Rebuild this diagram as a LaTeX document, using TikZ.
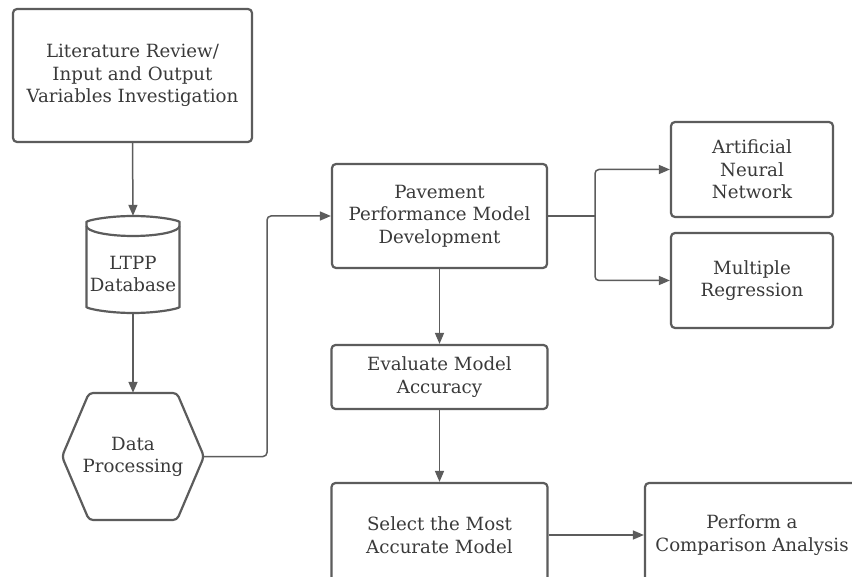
\documentclass[tikz,border=0pt]{standalone}
\usepackage{fontspec}
\setmainfont{DejaVu Serif}
\usetikzlibrary{arrows.meta}
\definecolor{edge}{HTML}{5C5C5C}
\definecolor{ink}{HTML}{3A3A3A}
\tikzset{
  procbox/.style={draw=edge, line width=2.2pt, rounded corners=4pt, fill=white,
    text=ink, align=center, inner sep=0pt, font=\fontsize{18.2}{22.5}\selectfont},
  ghost/.style={inner sep=0pt, text=ink, align=center, font=\fontsize{18.2}{22.5}\selectfont},
  shapeline/.style={draw=edge, line width=2.2pt, rounded corners=4pt, fill=white},
  link/.style={draw=edge, line width=1.5pt, rounded corners=4pt},
  arrowlink/.style={link, -{Triangle[length=11pt,width=9pt]}},
}
\begin{document}
\begin{tikzpicture}[x=1pt,y=-1pt]
\useasboundingbox (0,0) rectangle (852,577);
\clip (0,0) rectangle (852,577);
\fill[white] (0,0) rectangle (852,577);

% Left column
\node[procbox, minimum width=239pt, minimum height=133pt] (lit) at (132.5,75.5)
  {Literature Review/\\Input and Output\\Variables Investigation};

% Database cylinder
\node[ghost, minimum width=93pt, minimum height=97pt] (db) at (133,264.5) {};
\path[shapeline] (86.5,226) -- (86.5,303) arc[start angle=180, end angle=360, x radius=46.5, y radius=-10]
  -- (179.5,226) arc[start angle=0, end angle=180, x radius=46.5, y radius=-10] -- cycle;
\draw[edge, line width=2.2pt] (86.5,226) arc[start angle=180, end angle=360, x radius=46.5, y radius=-10];
\node[ghost] at (133,274) {LTPP\\Database};

% Data processing hexagon
\node[ghost, minimum width=141pt, minimum height=127pt] (dp) at (133,456.5) {};
\path[shapeline] (62,456.5) -- (89,393) -- (177,393) -- (204,456.5) -- (177,520) -- (89,520) -- cycle;
\node[ghost] at (133,457) {Data\\Processing};

% Middle column
\node[procbox, minimum width=215pt, minimum height=104pt] (pv) at (439.5,216)
  {Pavement\\Performance Model\\Development};
\node[procbox, minimum width=216pt, minimum height=64pt] (ev) at (439.5,377)
  {Evaluate Model\\Accuracy};
\node[procbox, minimum width=216pt, minimum height=104pt] (sel) at (439.5,535)
  {Select the Most\\Accurate Model};

% Right column
\node[procbox, minimum width=162pt, minimum height=95pt] (ann) at (752,169.5)
  {Artificial\\Neural\\Network};
\node[procbox, minimum width=162pt, minimum height=95pt] (mr) at (752,280.5)
  {Multiple\\Regression};
\node[procbox, minimum width=214pt, minimum height=104pt] (cmp) at (752,535)
  {Perform a\\Comparison Analysis};

% Connectors
\draw[arrowlink] (lit.south) -- (db.north);
\draw[arrowlink] (db.south) -- (dp.north);
\draw[arrowlink] (dp.east) -- (267,456.5) |- (pv.west);
\coordinate (split) at (595,216);
\draw[link] (pv.east) -- (split);
\draw[arrowlink] (split) |- (ann.west);
\draw[arrowlink] (split) |- (mr.west);
\draw[arrowlink] (pv.south) -- (ev.north);
\draw[arrowlink] (ev.south) -- (sel.north);
\draw[arrowlink] (sel.east) -- (cmp.west);
\end{tikzpicture}
\end{document}
